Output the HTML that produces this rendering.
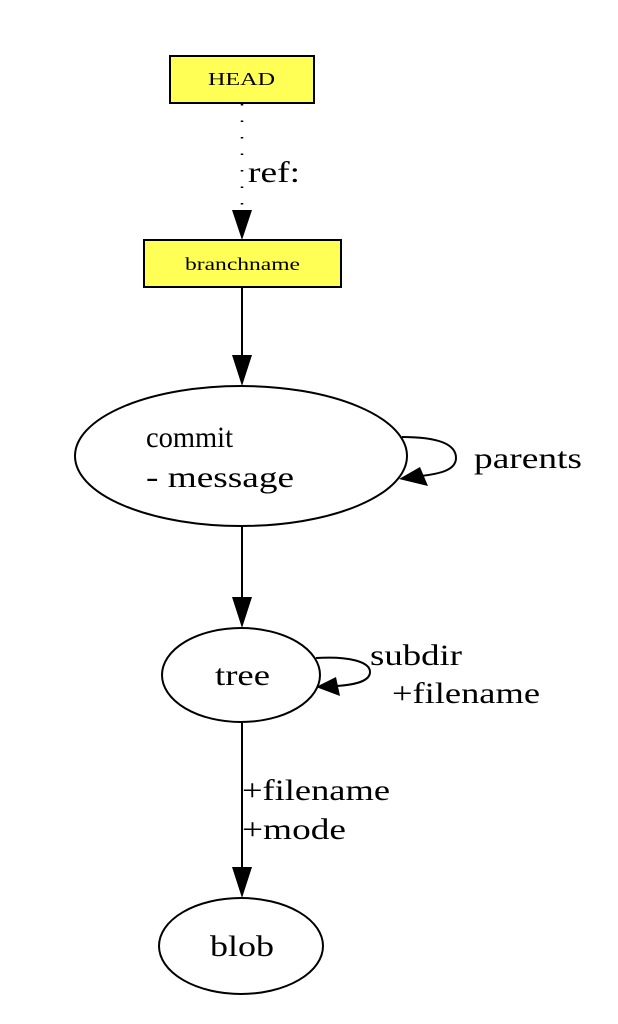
<!DOCTYPE html>
<html><head><style>body{margin:0;background:#fff}svg{display:block}</style></head><body>
<svg width="618" height="1024" xmlns="http://www.w3.org/2000/svg" font-family="Liberation Serif, serif">
<rect x="170" y="56" width="144" height="47" fill="#ffff55" stroke="#000" stroke-width="2"/>
<text x="208" y="85" font-size="18" textLength="67" lengthAdjust="spacingAndGlyphs">HEAD</text>
<line x1="242" y1="104" x2="242" y2="210" stroke="#000" stroke-width="2.5" stroke-dasharray="1.5 15"/>
<polygon points="232,210 252,210 242,240" fill="#000"/>
<text x="248" y="182" font-size="30" textLength="52" lengthAdjust="spacingAndGlyphs">ref:</text>
<rect x="144" y="240" width="197" height="47" fill="#ffff55" stroke="#000" stroke-width="2"/>
<text x="185" y="270" font-size="18" textLength="115" lengthAdjust="spacingAndGlyphs">branchname</text>
<line x1="242" y1="288" x2="242" y2="356" stroke="#000" stroke-width="2"/>
<polygon points="232,355 252,355 242,386" fill="#000"/>
<ellipse cx="241" cy="456" rx="166" ry="70" fill="none" stroke="#000" stroke-width="2"/>
<text x="146" y="447" font-size="30" textLength="87" lengthAdjust="spacingAndGlyphs">commit</text>
<text x="146" y="487" font-size="30" textLength="148" lengthAdjust="spacingAndGlyphs">- message</text>
<path d="M402,437 C440,437 456,445 456,458 C456,470 440,474 420,476" fill="none" stroke="#000" stroke-width="2"/>
<polygon points="399,479 420,467 428,486" fill="#000"/>
<text x="474" y="468" font-size="30" textLength="108" lengthAdjust="spacingAndGlyphs">parents</text>
<line x1="242" y1="527" x2="242" y2="598" stroke="#000" stroke-width="2"/>
<polygon points="232,597 252,597 242,628" fill="#000"/>
<ellipse cx="241" cy="675" rx="79" ry="47" fill="none" stroke="#000" stroke-width="2"/>
<text x="215" y="685" font-size="30" textLength="55" lengthAdjust="spacingAndGlyphs">tree</text>
<path d="M316,658 C350,656 370,662 370,672 C370,681 355,685 336,686" fill="none" stroke="#000" stroke-width="2"/>
<polygon points="316,687 336,677 340,696" fill="#000"/>
<text x="370" y="665" font-size="30" textLength="92" lengthAdjust="spacingAndGlyphs">subdir</text>
<text x="392" y="703" font-size="30" textLength="148" lengthAdjust="spacingAndGlyphs">+filename</text>
<line x1="242" y1="723" x2="242" y2="868" stroke="#000" stroke-width="2"/>
<polygon points="232,867 252,867 242,898" fill="#000"/>
<text x="242" y="800" font-size="30" textLength="148" lengthAdjust="spacingAndGlyphs">+filename</text>
<text x="242" y="839" font-size="30" textLength="104" lengthAdjust="spacingAndGlyphs">+mode</text>
<ellipse cx="241" cy="946" rx="82" ry="48" fill="none" stroke="#000" stroke-width="2"/>
<text x="210" y="956" font-size="30" textLength="64" lengthAdjust="spacingAndGlyphs">blob</text>
</svg>
</body></html>
